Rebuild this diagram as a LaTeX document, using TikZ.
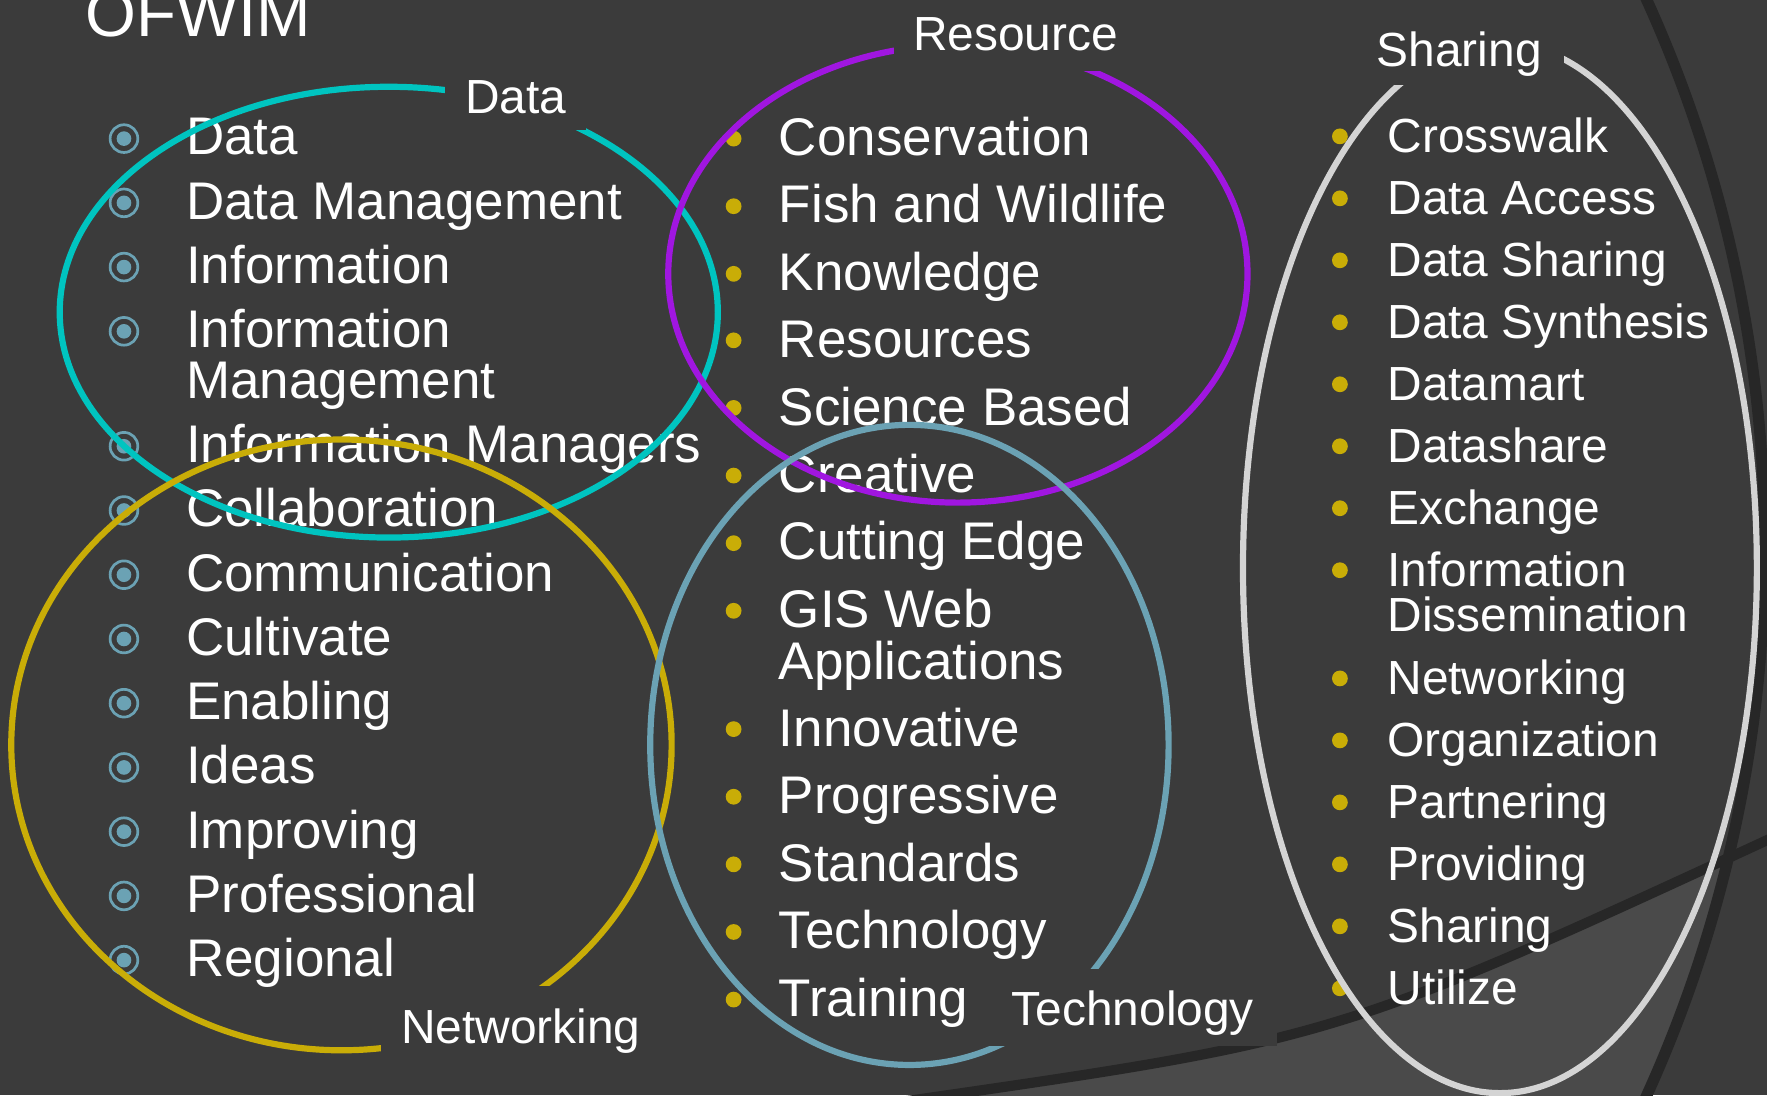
\documentclass[tikz,border=0pt]{standalone}
\usepackage{fontspec}
\setmainfont{Liberation Sans}
\usepackage{xcolor}
\definecolor{bgc}{HTML}{3B3B3B}
\definecolor{lite}{HTML}{4A4A4A}
\definecolor{band}{HTML}{272727}
\definecolor{cyanc}{HTML}{00C4C0}
\definecolor{purp}{HTML}{A016E0}
\definecolor{gold}{HTML}{C9AD07}
\definecolor{steel}{HTML}{6BA2B4}
\definecolor{pale}{HTML}{D4D4D4}

\begin{document}
\begin{tikzpicture}[x=1pt,y=-1pt,
 item/.style={anchor=base west,inner sep=0pt,text=white,font=\fontsize{47}{50}\selectfont},
 itemr/.style={item,font=\fontsize{42.5}{46}\selectfont},
 tgt/.style={circle,draw=steel,line width=2.4pt,minimum size=24.6pt,inner sep=0pt,
  path picture={\fill[steel] (path picture bounding box.center) circle[radius=6.5pt];}},
 dot/.style={circle,fill=gold,minimum size=14pt,inner sep=0pt},
 ring/.style={line width=5.5pt},
 tag/.style={fill=bgc,inner sep=0pt,text=white,text depth=0pt,font=\fontsize{42.5}{45}\selectfont}]
\useasboundingbox (0,0) rectangle (1568,972);
\fill[bgc] (0,0) rectangle (1568,972);
% backdrop
\begin{scope}
\clip (0,0) rectangle (1568,972);
\begin{scope}
\clip (389,486) circle[radius=1177pt];
\fill[lite] (805,977) .. controls (1186,922) .. (1580,740) -- (1580,990) -- (805,990) -- cycle;
\end{scope}
\draw[band,line width=9pt] (805,977) .. controls (1186,922) .. (1580,740);
\draw[band,line width=10pt] (389,486) circle[radius=1177pt];
\end{scope}
\node[anchor=base west,inner sep=0pt,text=white,font=\fontsize{58}{60}\selectfont] (ttl) at (76,32) {OFWIM};
% left column
\node[tgt] (ba1) at (110,123) {}; \node[item] (data) at (165,137.5) {Data};
\node[tgt] (ba2) at (110,180) {}; \node[item] (dmgmt) at (165,194.5) {Data Management};
\node[tgt] (ba3) at (110,237) {}; \node[item] (info) at (165,251.5) {Information};
\node[tgt] (ba4) at (110,294) {}; \node[item] (imgmt) at (165,308.5) {Information};
\node[item] (imgmt2) at (165,353.5) {Management};
\node[tgt] (ba5) at (110,396) {}; \node[item] (imgrs) at (165,410.5) {Information Managers};
\node[tgt] (ba6) at (110,453) {}; \node[item] (collab) at (165,467.5) {Collaboration};
\node[tgt] (ba7) at (110,510) {}; \node[item] (comm) at (165,524.5) {Communication};
\node[tgt] (ba8) at (110,567) {}; \node[item] (cult) at (165,581.5) {Cultivate};
\node[tgt] (ba9) at (110,624) {}; \node[item] (enab) at (165,638.5) {Enabling};
\node[tgt] (ba10) at (110,681) {}; \node[item] (ideas) at (165,695.5) {Ideas};
\node[tgt] (ba11) at (110,738) {}; \node[item] (impr) at (165,752.5) {Improving};
\node[tgt] (ba12) at (110,795) {}; \node[item] (prof) at (165,809.5) {Professional};
\node[tgt] (ba13) at (110,852) {}; \node[item] (regn) at (165,866.5) {Regional};
% middle column
\node[dot] (bb1) at (651,123) {}; \node[item] (cons) at (691,138) {Conservation};
\node[dot] (bb2) at (651,183) {}; \node[item] (fish) at (691,197.8) {Fish and Wildlife};
\node[dot] (bb3) at (651,243) {}; \node[item] (know) at (691,257.6) {Knowledge};
\node[dot] (bb4) at (651,302) {}; \node[item] (res) at (691,317.4) {Resources};
\node[dot] (bb5) at (651,362) {}; \node[item] (sci) at (691,377.2) {Science Based};
\node[dot] (bb6) at (651,422) {}; \node[item] (creat) at (691,437) {Creative};
\node[dot] (bb7) at (651,482) {}; \node[item] (cut) at (691,496.8) {Cutting Edge};
\node[dot] (bb8) at (651,542) {}; \node[item] (gis) at (691,556.6) {GIS Web};
\node[item] (gis2) at (691,602.6) {Applications};
\node[dot] (bb9) at (651,647) {}; \node[item] (innov) at (691,662.4) {Innovative};
\node[dot] (bb10) at (651,707) {}; \node[item] (prog) at (691,722.2) {Progressive};
\node[dot] (bb11) at (651,767) {}; \node[item] (stds) at (691,782) {Standards};
\node[dot] (bb12) at (651,827) {}; \node[item] (tech) at (691,841.8) {Technology};
\node[dot] (bb13) at (651,887) {}; \node[item] (train) at (691,901.6) {Training};
% right column
\node[dot] (bc1) at (1189,121) {}; \node[itemr] (cross) at (1231,135) {Crosswalk};
\node[dot] (bc2) at (1189,176) {}; \node[itemr] (dacc) at (1231,190) {Data Access};
\node[dot] (bc3) at (1189,231) {}; \node[itemr] (dshr) at (1231,245) {Data Sharing};
\node[dot] (bc4) at (1189,286) {}; \node[itemr] (dsyn) at (1231,300) {Data Synthesis};
\node[dot] (bc5) at (1189,341) {}; \node[itemr] (dmart) at (1231,355) {Datamart};
\node[dot] (bc6) at (1189,396) {}; \node[itemr] (dshare) at (1231,410) {Datashare};
\node[dot] (bc7) at (1189,451) {}; \node[itemr] (exch) at (1231,465) {Exchange};
\node[dot] (bc8) at (1189,506) {}; \node[itemr] (idis) at (1231,520) {Information};
\node[itemr] (idis2) at (1231,560) {Dissemination};
\node[dot] (bc9) at (1189,602) {}; \node[itemr] (netw) at (1231,616) {Networking};
\node[dot] (bc10) at (1189,657) {}; \node[itemr] (org) at (1231,671) {Organization};
\node[dot] (bc11) at (1189,712) {}; \node[itemr] (partn) at (1231,726) {Partnering};
\node[dot] (bc12) at (1189,767) {}; \node[itemr] (prov) at (1231,781) {Providing};
\node[dot] (bc13) at (1189,822) {}; \node[itemr] (shr) at (1231,836) {Sharing};
\node[dot] (bc14) at (1189,877) {}; \node[itemr] (util) at (1231,891) {Utilize};
% rings
\draw[cyanc,ring] (345,277) ellipse[x radius=292pt,y radius=200pt];
\draw[purp,ring] (850,243) ellipse[x radius=257pt,y radius=203pt];
\draw[gold,ring] (303,661) ellipse[x radius=293pt,y radius=271pt];
\draw[steel,ring] (807,661) ellipse[x radius=230pt,y radius=284pt];
\draw[pale,ring] (1331,504) ellipse[x radius=228pt,y radius=466pt];
% ring names
\node[tag,anchor=south west,minimum width=125pt,minimum height=60pt] (tdata) at (395,116) {Data};
\node[tag,anchor=south west,minimum width=216pt,minimum height=66pt] (tres) at (793,63) {Resource};
\node[tag,anchor=south east,minimum width=186pt,minimum height=64pt] (tshr) at (1388,76) {Sharing};
\node[tag,anchor=north west,minimum width=248pt,minimum height=70pt] (tnet) at (338,875) {Networking};
\node[tag,anchor=north west,minimum width=256pt,minimum height=68pt] (ttech) at (877,860) {Technology};
\end{tikzpicture}
\end{document}
